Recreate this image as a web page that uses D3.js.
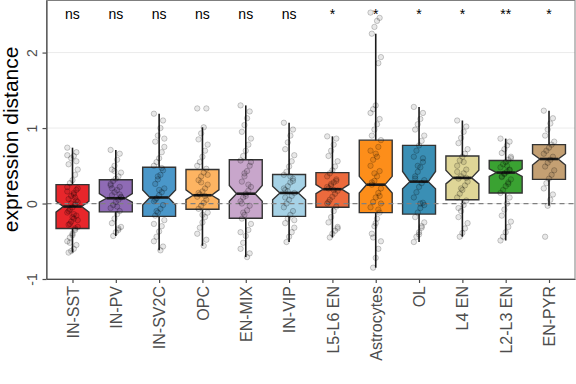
<!DOCTYPE html>
<html>
<head>
<meta charset="utf-8">
<script src="https://cdn.jsdelivr.net/npm/d3@7"></script>
<style>
  body { margin: 0; background: #fff; }
  svg { font-family: "Liberation Sans", Arial, Helvetica, sans-serif; display: block; }
</style>
</head>
<body>
<div class="chart"></div>
<script>
// Data
//= ================================
var categories = ["IN-SST", "IN-PV", "IN-SV2C", "OPC", "EN-MIX", "IN-VIP",
  "L5-L6 EN", "Astrocytes", "OL", "L4 EN", "L2-L3 EN", "EN-PYR"];

var boxColors = ["#e8262b", "#8f6bb5", "#4a97c9", "#fdb462", "#c8a6cb", "#a6d2e6",
  "#ec6a3d", "#fd8e1a", "#3a8fb5", "#dfd697", "#3aa232", "#c4a073"];

var significance = ["ns", "ns", "ns", "ns", "ns", "ns", "*", "*", "*", "*", "**", "*"];

var q1 = [-0.33, -0.11, -0.17, -0.075, -0.195, -0.17, -0.05, -0.12, -0.14, 0.05, 0.14, 0.32];
var medians = [-0.04, 0.07, 0.08, 0.11, 0.13, 0.14, 0.19, 0.25, 0.29, 0.34, 0.41, 0.59];
var q3 = [0.25, 0.315, 0.48, 0.45, 0.58, 0.385, 0.41, 0.84, 0.77, 0.63, 0.57, 0.78];
var whiskerLow = [-0.65, -0.43, -0.62, -0.56, -0.71, -0.51, -0.45, -0.85, -0.51, -0.44, -0.49, -0.03];
var whiskerHigh = [0.74, 0.71, 1.19, 1.01, 1.3, 1.07, 0.89, 2.25, 1.28, 1.1, 0.86, 1.23];
var notchLow = [-0.115, 0.017, -0.02, 0.05, 0.03, 0.05, 0.13, 0.14, 0.195, 0.26, 0.36, 0.51];
var notchHigh = [0.03, 0.13, 0.18, 0.18, 0.24, 0.23, 0.25, 0.36, 0.425, 0.44, 0.46, 0.66];

// individual observations (jittered points), one list per category
var observations = [
  [0.74, 0.68, 0.63, 0.6, 0.52, 0.45, 0.38, 0.31, 0.27, 0.22, 0.18, 0.14, 0.1, 0.06, 0.02, -0.01, -0.05, -0.08,
    -0.12, -0.16, -0.2, -0.24, -0.28, -0.31, -0.35, -0.4, -0.45, -0.5, -0.55, -0.6, -0.63, -0.65, 0.2, 0.08, -0.18, -0.27,
    0.64, 0.56, 0.12, 0.0, -0.1, -0.22, -0.33, -0.42, -0.52, 0.16, 0.04, -0.14],
  [0.71, 0.66, 0.58, 0.5, 0.45, 0.41, 0.36, 0.33, 0.3, 0.26, 0.22, 0.18, 0.15, 0.11, 0.08, 0.05, 0.02, -0.02,
    -0.06, -0.1, -0.14, -0.2, -0.26, -0.31, -0.35, -0.38, -0.43, 0.24, 0.12, -0.04, 0.43, 0.2, 0.09, -0.33],
  [1.19, 1.1, 1.0, 0.9, 0.82, 0.75, 0.68, 0.6, 0.55, 0.5, 0.44, 0.38, 0.32, 0.26, 0.2, 0.15, 0.11, 0.07, 0.03,
    -0.02, -0.07, -0.12, -0.16, -0.22, -0.3, -0.37, -0.44, -0.5, -0.57, -0.62, 0.36, 0.05, 0.86, 0.47, 0.18, -0.1, -0.27],
  [1.26, 1.26, 1.01, 0.93, 0.85, 0.78, 0.7, 0.62, 0.55, 0.5, 0.46, 0.41, 0.36, 0.31, 0.25, 0.2, 0.16, 0.12, 0.09,
    0.05, 0.01, -0.03, -0.07, -0.12, -0.18, -0.25, -0.32, -0.4, -0.48, -0.56, 0.28, 0.14, 0.38, 0.1, -0.15],
  [1.3, 1.22, 1.13, 1.04, 0.95, 0.86, 0.78, 0.7, 0.63, 0.57, 0.5, 0.43, 0.36, 0.29, 0.22, 0.17, 0.13, 0.08, 0.03,
    -0.03, -0.09, -0.15, -0.2, -0.27, -0.35, -0.43, -0.52, -0.6, -0.66, -0.71, 0.4, 0.0, 0.55, 0.25, 0.1, -0.12, -0.38],
  [1.07, 0.98, 0.9, 0.81, 0.72, 0.64, 0.56, 0.49, 0.42, 0.38, 0.33, 0.28, 0.23, 0.18, 0.14, 0.1, 0.05, 0.0,
    -0.05, -0.1, -0.15, -0.2, -0.26, -0.32, -0.38, -0.44, -0.51, 0.2, 0.3, 0.36, 0.16, 0.08, -0.22],
  [0.89, 0.86, 0.78, 0.7, 0.63, 0.56, 0.49, 0.44, 0.4, 0.36, 0.32, 0.28, 0.24, 0.2, 0.17, 0.13, 0.09, 0.05, 0.0,
    -0.04, -0.1, -0.18, -0.25, -0.31, -0.36, -0.4, -0.45, 0.22, 0.3, 0.18, 0.26, 0.02, -0.33],
  [2.53, 2.46, 2.42, 2.34, 2.25, 1.94, 1.86, 1.3, 1.25, 1.2, 1.12, 1.05, 0.98, 0.9, 0.84, 0.75, 0.66, 0.58, 0.5,
    0.43, 0.36, 0.3, 0.25, 0.2, 0.14, 0.08, 0.02, -0.05, -0.12, -0.2, -0.3, -0.4, -0.5, -0.6, -0.72, -0.85, 0.7, 0.1,
    0.62, 0.4, 0.28, 0.0, -0.08, -0.26, -0.45],
  [1.28, 1.2, 1.12, 1.05, 0.98, 0.9, 0.83, 0.77, 0.7, 0.62, 0.55, 0.48, 0.42, 0.36, 0.31, 0.27, 0.22, 0.15, 0.08,
    0.01, -0.06, -0.12, -0.18, -0.25, -0.32, -0.38, -0.44, -0.51, 0.6, 0.0, 0.5, 0.33, -0.02, -0.3, -0.41],
  [1.1, 1.02, 0.95, 0.87, 0.8, 0.72, 0.66, 0.62, 0.57, 0.5, 0.45, 0.4, 0.36, 0.33, 0.29, 0.24, 0.18, 0.13, 0.08,
    0.04, -0.02, -0.1, -0.18, -0.26, -0.33, -0.39, -0.44, 0.42, 0.34, 0.55, 0.2, -0.06],
  [0.86, 0.82, 0.77, 0.72, 0.67, 0.62, 0.58, 0.55, 0.52, 0.48, 0.45, 0.42, 0.39, 0.36, 0.32, 0.28, 0.23, 0.18,
    0.14, 0.08, 0.0, -0.08, -0.16, -0.24, -0.31, -0.38, -0.44, -0.49, 0.44, 0.5, 0.4, 0.35, 0.6, 0.26],
  [1.23, 1.13, 1.06, 0.98, 0.9, 0.82, 0.78, 0.74, 0.7, 0.66, 0.62, 0.58, 0.54, 0.49, 0.44, 0.38, 0.33, 0.27,
    0.2, 0.12, 0.05, -0.03, -0.44]
];

var yTicks = [-1, 0, 1, 2];

// Step 0: Set up our chart
//= ================================
var svgWidth = 576;
var svgHeight = 384;

var panel = { left: 46.5, right: 575, top: 0.5, bottom: 279 };

var svg = d3
  .select(".chart")
  .append("svg")
  .attr("width", svgWidth)
  .attr("height", svgHeight);

// Scales
var xScale = d3.scalePoint()
  .domain(categories)
  .range([panel.left, panel.right])
  .padding(0.6);

var yScale = d3.scaleLinear()
  .domain([-1, 2.69])
  .range([panel.bottom, panel.top]);

var boxWidth = xScale.step() * 0.76;
var notchInset = boxWidth * 0.22;

// Gridlines
svg.append("g")
  .selectAll("line")
  .data(yTicks)
  .enter()
  .append("line")
  .attr("x1", panel.left)
  .attr("x2", panel.right)
  .attr("y1", function(d) { return yScale(d); })
  .attr("y2", function(d) { return yScale(d); })
  .attr("stroke", "#ebebeb")
  .attr("stroke-width", 1);

var boxes = categories.map(function(c, i) {
  return {
    name: c, color: boxColors[i], q1: q1[i], med: medians[i], q3: q3[i],
    lo: whiskerLow[i], hi: whiskerHigh[i], nl: notchLow[i], nh: notchHigh[i]
  };
});

// Whiskers
svg.append("g")
  .selectAll("line")
  .data(boxes)
  .enter()
  .append("line")
  .attr("x1", function(d) { return xScale(d.name); })
  .attr("x2", function(d) { return xScale(d.name); })
  .attr("y1", function(d) { return yScale(d.lo); })
  .attr("y2", function(d) { return yScale(d.hi); })
  .attr("stroke", "#1a1a1a")
  .attr("stroke-width", 1.6);

// Notched boxes
function boxPath(d) {
  var x0 = xScale(d.name) - boxWidth / 2;
  var x1 = xScale(d.name) + boxWidth / 2;
  var pts = [
    [x0, yScale(d.q3)], [x1, yScale(d.q3)], [x1, yScale(d.nh)],
    [x1 - notchInset, yScale(d.med)], [x1, yScale(d.nl)], [x1, yScale(d.q1)],
    [x0, yScale(d.q1)], [x0, yScale(d.nl)], [x0 + notchInset, yScale(d.med)],
    [x0, yScale(d.nh)]
  ];
  return "M" + pts.join("L") + "Z";
}

svg.append("g")
  .selectAll("path")
  .data(boxes)
  .enter()
  .append("path")
  .attr("d", boxPath)
  .attr("fill", function(d) { return d.color; })
  .attr("stroke", "#333333")
  .attr("stroke-width", 1.4)
  .attr("stroke-linejoin", "miter");

// Medians
svg.append("g")
  .selectAll("line")
  .data(boxes)
  .enter()
  .append("line")
  .attr("x1", function(d) { return xScale(d.name) - boxWidth / 2 + notchInset; })
  .attr("x2", function(d) { return xScale(d.name) + boxWidth / 2 - notchInset; })
  .attr("y1", function(d) { return yScale(d.med); })
  .attr("y2", function(d) { return yScale(d.med); })
  .attr("stroke", "#1a1a1a")
  .attr("stroke-width", 2.6);

// Dashed zero line
svg.append("line")
  .attr("x1", panel.left)
  .attr("x2", panel.right)
  .attr("y1", yScale(0))
  .attr("y2", yScale(0))
  .attr("stroke", "#808080")
  .attr("stroke-width", 1.2)
  .attr("stroke-dasharray", "5,4");

// Jittered points
var points = [];
observations.forEach(function(vals, i) {
  vals.forEach(function(v, j) {
    points.push({ name: categories[i], value: v, k: j });
  });
});

svg.append("g")
  .selectAll("circle")
  .data(points)
  .enter()
  .append("circle")
  .attr("cx", function(d) { return xScale(d.name) + ((d.k * 7) % 9 - 4) * 1.3; })
  .attr("cy", function(d) { return yScale(d.value); })
  .attr("r", 2.7)
  .attr("fill", "rgba(0,0,0,0.09)")
  .attr("stroke", "rgba(0,0,0,0.25)")
  .attr("stroke-width", 0.8);

// Significance labels
svg.append("g")
  .selectAll("text")
  .data(categories)
  .enter()
  .append("text")
  .attr("x", function(d) { return xScale(d); })
  .attr("y", 18.5)
  .attr("text-anchor", "middle")
  .attr("font-size", "14px")
  .attr("fill", "#000")
  .text(function(d, i) { return significance[i]; });

// Panel border
svg.append("rect")
  .attr("x", panel.left)
  .attr("y", panel.top)
  .attr("width", panel.right - panel.left)
  .attr("height", panel.bottom - panel.top)
  .attr("fill", "none")
  .attr("stroke", "#7f7f7f")
  .attr("stroke-width", 1);

// Axes
var bottomAxis = d3.axisBottom(xScale).tickSize(4).tickSizeOuter(0);
var leftAxis = d3.axisLeft(yScale)
  .tickValues(yTicks)
  .tickFormat(function(d) { return String(d); })
  .tickSize(4)
  .tickSizeOuter(0);

var xAxis = svg.append("g")
  .attr("transform", "translate(0," + panel.bottom + ")")
  .call(bottomAxis);

xAxis.select(".domain").attr("stroke", "#4d4d4d").attr("stroke-width", 1.2);
xAxis.selectAll(".tick line").attr("stroke", "#4d4d4d").attr("stroke-width", 1.2);
xAxis.selectAll(".tick text")
  .attr("transform", "rotate(-90)")
  .attr("x", -7)
  .attr("y", 0)
  .attr("dy", "0.35em")
  .attr("text-anchor", "end")
  .attr("font-size", "16px")
  .attr("font-family", "'Liberation Sans', Arial, sans-serif")
  .attr("fill", "#4d4d4d");

var yAxis = svg.append("g")
  .attr("transform", "translate(" + panel.left + ",0)")
  .call(leftAxis);

yAxis.select(".domain").attr("stroke", "#4d4d4d").attr("stroke-width", 1.2);
yAxis.selectAll(".tick line").attr("stroke", "#4d4d4d").attr("stroke-width", 1.2);
yAxis.selectAll(".tick text")
  .attr("transform", "rotate(-90)")
  .attr("x", 0)
  .attr("y", -10)
  .attr("dy", 0)
  .attr("text-anchor", "middle")
  .attr("font-size", "14px")
  .attr("font-family", "'Liberation Sans', Arial, sans-serif")
  .attr("fill", "#4d4d4d");

// y-axis label
svg.append("text")
  .attr("transform", "translate(18," + (yScale(0.85)) + ") rotate(-90)")
  .attr("text-anchor", "middle")
  .attr("font-size", "21px")
  .attr("fill", "#000")
  .text("expression distance");
</script>
</body>
</html>
